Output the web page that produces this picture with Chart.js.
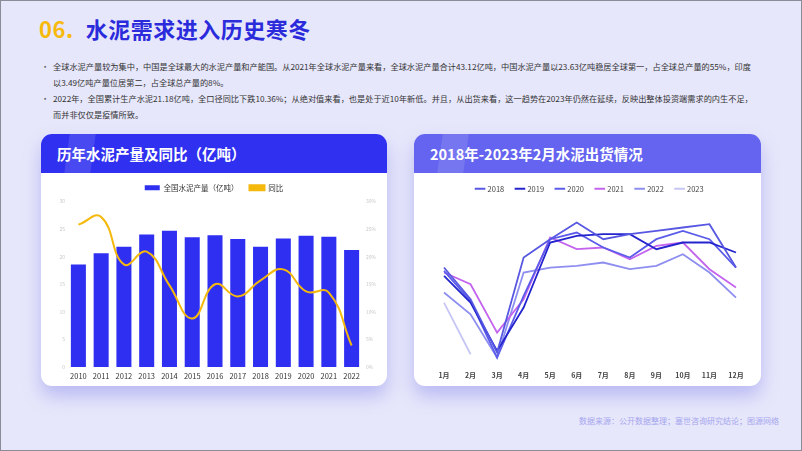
<!DOCTYPE html>
<html>
<head>
<meta charset="utf-8">
<script src="https://cdn.jsdelivr.net/npm/chart.js@4"></script>
<style>
  html, body { margin: 0; padding: 0; }
  body {
    width: 800px; height: 449px; position: relative; overflow: hidden;
    background: #e7e7fb; border: 1px solid #8c8c98;
    font-family: "Noto Sans CJK SC", "Noto Sans", sans-serif;
  }
  .title { position: absolute; left: 38px; top: 11px; font-size: 22px; font-weight: 700; color: #2b2bdc; letter-spacing: 0.5px; }
  .title span { color: #f7b90c; margin-right: 12px; }
  .text { position: absolute; left: 40px; top: 57px; width: 740px; font-size: 8.2px; color: #333; line-height: 16px; white-space: nowrap; }
  .text p { margin: 0; padding-left: 12px; position: relative; }
  .text p:before { content: "•"; position: absolute; left: 0; color: #555; }
  .card { position: absolute; top: 133px; height: 252px; background: #fff; border-radius: 11px; overflow: hidden;
    box-shadow: 0 10px 18px rgba(130,130,235,0.45); }
  .card .head { height: 39px; color: #fff; font-size: 14.5px; font-weight: 700; line-height: 39px; padding-left: 16px; position: relative; }
  .card .head:before { content: ""; position: absolute; left: 26px; top: 0; width: 26px; height: 39px; background: rgba(255,255,255,0.12); transform: skewX(-8deg); }
  .card canvas { position: absolute; left: 0; top: 39px; }
  .src { position: absolute; left: 578px; top: 414px; font-size: 8px; color: #a6a6ee; }
</style>
</head>
<body>
<div class="title"><span>06.</span>水泥需求进入历史寒冬</div>
<div class="text">
  <p>全球水泥产量较为集中，中国是全球最大的水泥产量和产能国。从2021年全球水泥产量来看，全球水泥产量合计43.12亿吨，中国水泥产量以23.63亿吨稳居全球第一，占全球总产量的55%，印度<br>以3.49亿吨产量位居第二，占全球总产量的8%。</p>
  <p>2022年，全国累计生产水泥21.18亿吨，全口径同比下跌10.36%；从绝对值来看，也是处于近10年新低。并且，从出货来看，这一趋势在2023年仍然在延续，反映出整体投资端需求的内生不足，<br>而并非仅仅是疫情所致。</p>
</div>
<div class="card" style="left:40px; width:346px;">
  <div class="head" style="background:#3030f0;">历年水泥产量及同比（亿吨）</div>
  <canvas id="c1" width="346" height="213"></canvas>
</div>
<div class="card" style="left:413px; width:347px;">
  <div class="head" style="background:#6464f0;">2018年-2023年2月水泥出货情况</div>
  <canvas id="c2" width="347" height="213"></canvas>
</div>
<div class="src">数据来源：公开数据整理；塞世咨询研究结论；图源网络</div>
<script>
var years = ["2010","2011","2012","2013","2014","2015","2016","2017","2018","2019","2020","2021","2022"];
var output = [18.6, 20.6, 21.8, 24.0, 24.7, 23.5, 23.9, 23.2, 21.8, 23.3, 23.8, 23.6, 21.2];
var growth = [25.8, 27.2, 18.6, 20.9, 14.8, 8.8, 15.0, 12.8, 15.7, 17.7, 13.7, 13.5, 3.9];
var leftTicks = [0, 5, 10, 15, 20, 25, 30];

var months = ["1月","2月","3月","4月","5月","6月","7月","8月","9月","10月","11月","12月"];
var s2018 = [63, 44, 12, 69, 80, 90, 80, 83, 85, 87, 89, 63];
var s2019 = [58, 42, 13, 39, 78, 82, 83, 83, 74, 78, 78, 72];
var s2020 = [61, 43, 9, 46, 80, 84, 75, 69, 80, 85, 80, 63];
var s2021 = [60, 53, 24, 44, 81, 74, 75, 68, 76, 78, 62, 51];
var s2022 = [48, 35, 9, 60, 63, 64, 66, 62, 64, 71, 60, 45];
var s2023 = [42, 11];

var font = "'Noto Sans CJK SC', 'Noto Sans', sans-serif";

new Chart(document.getElementById("c1"), {
  data: {
    labels: years,
    datasets: [
      {
        type: "line", label: "同比", data: growth, yAxisID: "y1",
        borderColor: "#f5b80c", backgroundColor: "#f5b80c", borderWidth: 2,
        tension: 0.45, pointRadius: 0, order: 0,
      },
      {
        type: "bar", label: "全国水泥产量（亿吨）", data: output, yAxisID: "y",
        backgroundColor: "#2f2ff2", barPercentage: 0.66, categoryPercentage: 1, order: 1,
      },
    ],
  },
  options: {
    responsive: false, animation: false,
    layout: { padding: { top: 0, left: 0, right: 0, bottom: 0 } },
    plugins: {
      legend: {
        reverse: true,
        labels: {
          font: { family: font, size: 7.5 }, color: "#333",
          boxWidth: 15, boxHeight: 5, padding: 11,
          generateLabels: function (chart) {
            var items = Chart.defaults.plugins.legend.labels.generateLabels(chart);
            items.forEach(function (it) {
              if (it.text === "同比") { it.pointStyle = "line"; }
            });
            return items;
          },
        },
      },
      tooltip: { enabled: false },
    },
    scales: {
      x: {
        grid: { display: false, drawTicks: false }, border: { display: false },
        ticks: { font: { family: font, size: 7.5 }, color: "#333", padding: 5 },
      },
      y: {
        min: 0, max: 30, position: "left",
        afterBuildTicks: function (s) { s.ticks = leftTicks.map(function (v) { return { value: v }; }); },
        afterFit: function (s) { s.width = 26; },
        grid: { display: false, drawTicks: false }, border: { display: false },
        ticks: { font: { family: font, size: 5 }, color: "#c8c8c8", padding: 2 },
      },
      y1: {
        min: 0, max: 30, position: "right",
        afterBuildTicks: function (s) { s.ticks = leftTicks.map(function (v) { return { value: v }; }); },
        afterFit: function (s) { s.width = 24; },
        grid: { display: false, drawTicks: false }, border: { display: false },
        ticks: { font: { family: font, size: 5 }, color: "#c8c8c8", padding: 3,
          callback: function (v) { return v + "%"; } },
      },
    },
  },
});

function ds(label, data, color, w) {
  return { label: label, data: data, borderColor: color, backgroundColor: color,
    borderWidth: w || 1.8, pointRadius: 0, tension: 0 };
}

new Chart(document.getElementById("c2"), {
  type: "line",
  data: {
    labels: months,
    datasets: [
      ds("2018", s2018, "#5757e2"),
      ds("2019", s2019, "#2424cf"),
      ds("2020", s2020, "#5c5cea"),
      ds("2021", s2021, "#c464ee"),
      ds("2022", s2022, "#8e8ef0"),
      ds("2023", s2023, "#c6c6f4"),
    ],
  },
  options: {
    responsive: false, animation: false,
    layout: { padding: { top: 0, left: 30, right: 25, bottom: 2 } },
    plugins: {
      legend: {
        labels: {
          font: { family: font, size: 7.5 }, color: "#444",
          usePointStyle: true, pointStyle: "line", boxWidth: 15, padding: 12,
        },
      },
      tooltip: { enabled: false },
    },
    scales: {
      x: {
        offset: false,
        grid: { display: false, drawTicks: false }, border: { display: false },
        ticks: { font: { family: font, size: 7, weight: "bold" }, color: "#444", padding: 4 },
      },
      y: { display: false, min: 3, max: 102 },
    },
  },
});
</script>
</body>
</html>
